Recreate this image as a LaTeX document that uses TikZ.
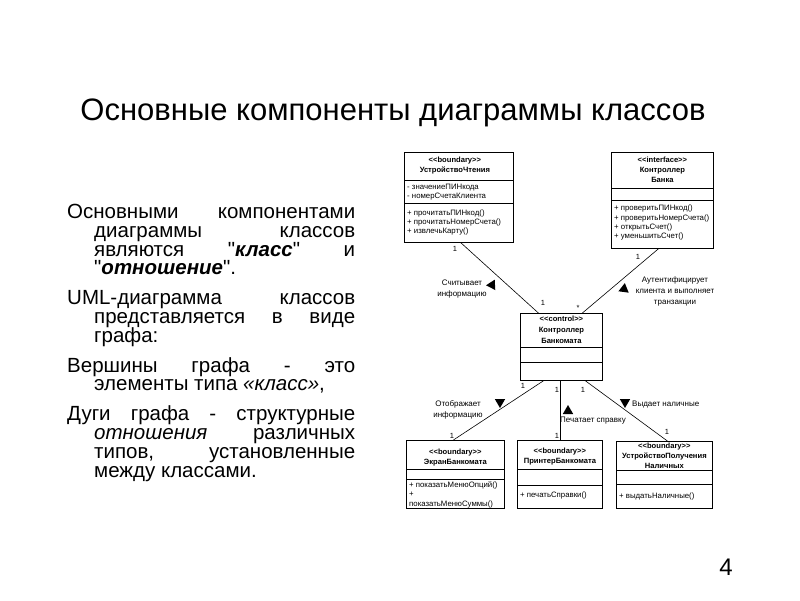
\documentclass[tikz,border=0pt]{standalone}
\usepackage{fontspec}
\setmainfont{Liberation Sans}[Ligatures=TeXOff]
\usetikzlibrary{calc,shapes.geometric}

\tikzset{
  slidetitle/.style={font=\fontsize{31}{34}\selectfont, inner sep=0pt},
  slidetext/.style={font=\fontsize{20.5}{18.8}\selectfont, text width=288pt, align=justify, inner sep=0pt, anchor=north west},
  cls/.style={draw, line width=0.8pt, inner sep=0pt, anchor=north west},
  hd/.style={font=\fontsize{7.6}{10}\selectfont\bfseries, align=center, inner sep=0pt, anchor=north},
  mb/.style={font=\fontsize{7.8}{9.3}\selectfont, align=left, inner sep=0pt, anchor=north west},
  lbl/.style={font=\fontsize{8}{11}\selectfont, align=center, inner sep=0pt},
  mult/.style={font=\fontsize{7.5}{8}\selectfont, inner sep=0pt},
  assoc/.style={line width=0.6pt},
  dirmark/.style={regular polygon, regular polygon sides=3, fill, inner sep=0pt, minimum size=12pt}
}

\begin{document}
\begin{tikzpicture}[x=1pt, y=-1pt]
	\useasboundingbox[fill=white] (0,0) rectangle (800,600);
	% Titel und Text
	\node[slidetitle] (head) at (393,113) {Основные компоненты диаграммы классов};
	\node[slidetext] (txt) at (67,204) {\setlength{\parskip}{11pt}\lineskiplimit=-20pt\hyphenpenalty=10000\exhyphenpenalty=10000
		\hangindent=27pt\hangafter=1 Основными компонентами\linebreak диаграммы классов\linebreak являются "\textbf{\textit{класс}}" и\linebreak "\textbf{\textit{отношение}}".\par
		\hangindent=27pt\hangafter=1 UML-диаграмма классов\linebreak представляется в виде\linebreak графа:\par
		\hangindent=27pt\hangafter=1 Вершины графа - это\linebreak элементы типа \textit{«класс»},\par
		\hangindent=27pt\hangafter=1 Дуги графа - структурные\linebreak \textit{отношения} различных\linebreak типов, установленные\linebreak между классами.\par};
	\node[font=\fontsize{24}{24}\selectfont, inner sep=0pt] (num) at (726,567) {4};
	% Устройство чтения
	\node[cls, minimum width=109, minimum height=90] (reader) at (404,152) {};
	\draw ($(reader.north west)+(0,28)$) -- ++(109,0);
	\draw ($(reader.north west)+(0,51)$) -- ++(109,0);
	\node[hd] (reader-h) at ($(reader.north)+(-4,5)$) {<<boundary>>\\УстройствоЧтения};
	\node[mb] (reader-a) at ($(reader.north west)+(3,31.5)$) {- значениеПИНкода\\- номерСчетаКлиента};
	\node[mb] (reader-m) at ($(reader.north west)+(3,57.5)$) {+ прочитатьПИНкод()\\+ прочитатьНомерСчета()\\+ извлечьКарту()};
	% Контроллер банка
	\node[cls, minimum width=102, minimum height=96] (bank) at (611,152) {};
	\draw ($(bank.north west)+(0,36)$) -- ++(102,0);
	\draw ($(bank.north west)+(0,48)$) -- ++(102,0);
	\node[hd] (bank-h) at ($(bank.north)+(0,5)$) {<<interface>>\\Контроллер\\Банка};
	\node[mb] (bank-m) at ($(bank.north west)+(3,53)$) {+ проверитьПИНкод()\\+ проверитьНомерСчета()\\+ открытьСчет()\\+ уменьшитьСчет()};
	% Контроллер банкомата
	\node[cls, minimum width=82, minimum height=67] (ctrl) at (520,313) {};
	\draw ($(ctrl.north west)+(0,34)$) -- ++(82,0);
	\draw ($(ctrl.north west)+(0,49)$) -- ++(82,0);
	\node[hd, font=\fontsize{7.6}{11}\selectfont\bfseries] (ctrl-h) at ($(ctrl.north)+(0,3)$) {<<control>>\\Контроллер\\Банкомата};
	% Экран банкомата
	\node[cls, minimum width=98, minimum height=68] (screen) at (406,440) {};
	\draw ($(screen.north west)+(0,29)$) -- ++(98,0);
	\draw ($(screen.north west)+(0,39)$) -- ++(98,0);
	\node[hd] (screen-h) at ($(screen.north)+(0,9)$) {<<boundary>>\\ЭкранБанкомата};
	\node[mb] (screen-m) at ($(screen.north west)+(3,41.5)$) {+ показатьМенюОпций()\\+\\показатьМенюСуммы()};
	% Принтер банкомата
	\node[cls, minimum width=85, minimum height=68] (printer) at (517,440) {};
	\draw ($(printer.north west)+(0,29)$) -- ++(85,0);
	\draw ($(printer.north west)+(0,45)$) -- ++(85,0);
	\node[hd] (printer-h) at ($(printer.north)+(0,8)$) {<<boundary>>\\ПринтерБанкомата};
	\node[mb] (printer-m) at ($(printer.north west)+(3,52)$) {+ печатьСправки()};
	% Устройство выдачи
	\node[cls, minimum width=96, minimum height=67] (cash) at (616,441) {};
	\draw ($(cash.north west)+(0,29)$) -- ++(96,0);
	\draw ($(cash.north west)+(0,43)$) -- ++(96,0);
	\node[hd] (cash-h) at ($(cash.north)+(0,1.5)$) {<<boundary>>\\УстройствоПолучения\\Наличных};
	\node[mb] (cash-m) at ($(cash.north west)+(3,52)$) {+ выдатьНаличные()};
	% Связи
	\draw[assoc] ([xshift=2]reader.south) -- ([xshift=-23]ctrl.north);
	\draw[assoc] ([xshift=-4]bank.south) -- ([xshift=21]ctrl.north);
	\draw[assoc] ([xshift=-18]ctrl.south) -- ([xshift=-2]screen.north);
	\draw[assoc] ([xshift=-1]ctrl.south) -- ([xshift=-1]ctrl.south |- printer.north);
	\draw[assoc] ([xshift=24]ctrl.south) -- ([xshift=3]cash.north);
	% Кратности
	\node[mult] (m1) at (455,249) {1};
	\node[mult] (m2) at (543,303) {1};
	\node[mult] (m3) at (578,308) {*};
	\node[mult] (m4) at (638,257) {1};
	\node[mult] (m5) at (523,386) {1};
	\node[mult] (m6) at (557,390) {1};
	\node[mult] (m7) at (583,390) {1};
	\node[mult] (m8) at (452,436) {1};
	\node[mult] (m9) at (557,436) {1};
	\node[mult] (m10) at (667,432) {1};
	% Имена ассоциаций
	\node[lbl] (l1) at (462,289) {Считывает\\информацию};
	\node[dirmark, rotate=-27] (d1) at (492,285) {};
	\node[lbl] (l2) at (675,291) {Аутентифицирует\\клиента и выполняет\\транзакции};
	\node[dirmark, rotate=-8] (d2) at (624,289) {};
	\node[lbl] (l3) at (458,410) {Отображает\\информацию};
	\node[dirmark, rotate=180] (d3) at (500,402) {};
	\node[lbl] (l4) at (593,421) {Печатает справку};
	\node[dirmark] (d4) at (568,411) {};
	\node[lbl, anchor=west] (l5) at (632,405) {Выдает наличные};
	\node[dirmark, rotate=180] (d5) at (625,402) {};
\end{tikzpicture}
\end{document}
